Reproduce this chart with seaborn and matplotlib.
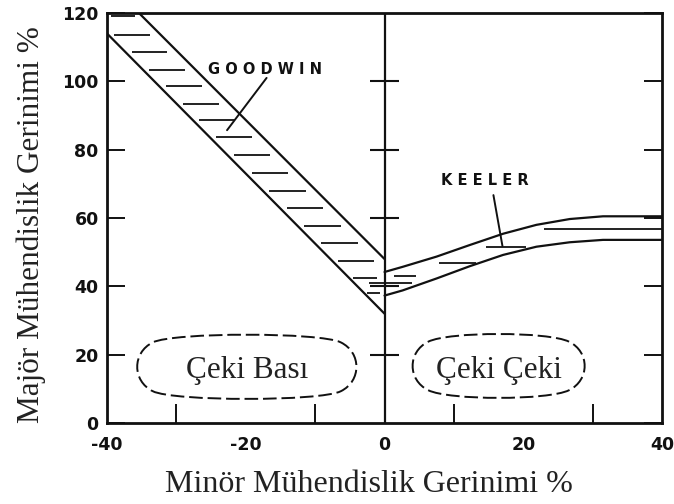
import numpy as np
import matplotlib
matplotlib.use('Agg')
import matplotlib.pyplot as plt
import seaborn as sns
from matplotlib.patches import FancyBboxPatch

# Goodwin band (two straight limits, left half of the diagram)
goodwin_upper_x = [-35.4, 0]
goodwin_upper_y = [120, 48]
goodwin_lower_x = [-40, 0]
goodwin_lower_y = [114, 32]
goodwin_hatch_y = [119, 113.7, 108.6, 103.4, 98.5, 93.4, 88.6, 83.7, 78.4,
                   73.2, 68, 62.8, 57.7, 52.6, 47.5, 42.5, 38]

# Keeler band (right half)
keeler_x = [0, 2.6, 7.5, 12.3, 17.1, 21.9, 26.7, 31.5, 40]
keeler_upper = [44.2, 45.7, 48.7, 52.1, 55.4, 58.0, 59.7, 60.5, 60.5]
keeler_lower = [37.3, 38.8, 42.3, 45.9, 49.2, 51.6, 52.9, 53.6, 53.6]
keeler_hatch_y = [43, 41, 46.7, 51.6, 56.7]
keeler_hatch_x0 = [1.4, -2.2, 7.9, 14.7, 23]
keeler_hatch_x1 = [4.5, 4.0, 13.2, 20.4, 40]

x_ticks = [-40, -20, 0, 20, 40]
x_tick_labels = ['-40', '-20', '0', '20', '40']
x_minor = [-30, -20, -10, 10, 20, 30]
y_ticks = [0, 20, 40, 60, 80, 100, 120]
center_ticks = [20, 40, 60, 80, 100]

regions = ['Çeki Bası', 'Çeki Çeki']

sns.set_theme(style='white')
plt.rcParams['font.family'] = ['Liberation Serif', 'DejaVu Serif']

ink = '#111111'
fig = plt.figure(figsize=(6.74, 5.04), dpi=100)
ax = fig.add_axes([0.1588, 0.1607, 0.8234, 0.8135])

# band limits
for xs, ys in [(goodwin_upper_x, goodwin_upper_y), (goodwin_lower_x, goodwin_lower_y),
               (keeler_x, keeler_upper), (keeler_x, keeler_lower)]:
    sns.lineplot(x=xs, y=ys, ax=ax, color=ink, lw=1.6, sort=False)

# hatching of Goodwin band
gy = np.array(goodwin_hatch_y)
xl = np.interp(gy, goodwin_lower_y[::-1], goodwin_lower_x[::-1])
xu = np.interp(gy, goodwin_upper_y[::-1], goodwin_upper_x[::-1])
w = xu - xl
ax.hlines(gy, xl + 0.12 * w, xu - 0.2 * w, color=ink, lw=1.3)

# hatching of Keeler band
ax.hlines(keeler_hatch_y, keeler_hatch_x0, keeler_hatch_x1, color=ink, lw=1.3)

# central vertical line with its ticks
ax.axvline(0, color=ink, lw=1.6)
ax.hlines(center_ticks, -2.1, 2.1, color=ink, lw=1.5)

# curve labels
lbl = dict(family='DejaVu Sans', fontweight='bold', fontsize=10.5, color=ink,
           ha='center', va='center')
ax.text(-17.2, 103.5, 'G O O D W I N', **lbl)
ax.plot([-17, -22.7], [101, 85.7], color=ink, lw=1.4)
ax.text(14.4, 71, 'K E E L E R', **lbl)
ax.plot([15.7, 17], [66.7, 51.8], color=ink, lw=1.4)

# strain regions
boxes = [(-36.4, 6.3, 33.1, 20.3), (3.3, 6.6, 26.3, 20.2)]
for (bx, by, bw, bh), name in zip(boxes, regions):
    patch = FancyBboxPatch((bx + 1.5, by + 1.5), bw - 3, bh - 3,
                           boxstyle='round4,pad=1.5,rounding_size=3',
                           fc='white', ec=ink, lw=1.4, ls=(0, (7, 2.5)),
                           mutation_aspect=1.0, zorder=3)
    ax.add_patch(patch)
    ax.text(bx + bw / 2, by + bh / 2 - 1.2, name, fontsize=22.5, ha='center',
            va='center', color='#222222', zorder=4)

ax.set_xlim(-40, 40)
ax.set_ylim(0, 120)
ax.set_xticks(x_ticks)
ax.set_xticklabels(x_tick_labels)
ax.set_xticks(x_minor, minor=True)
ax.set_yticks(y_ticks)
ax.tick_params(axis='x', which='major', length=0, pad=9)
ax.tick_params(axis='x', which='minor', direction='in', length=13.5, width=1.4,
               color=ink, bottom=True)
ax.tick_params(axis='y', which='major', direction='in', length=13, width=1.4,
               color=ink, left=True, right=True, pad=6)
for t in ax.get_xticklabels() + ax.get_yticklabels():
    t.set_family('DejaVu Sans')
    t.set_fontweight('bold')
    t.set_fontsize(12.5)
    t.set_color(ink)

for s in ax.spines.values():
    s.set_color(ink)
    s.set_linewidth(2.0)

ax.set_xlabel('Minör Mühendislik Gerinimi %', fontsize=23, labelpad=12, color='#222222')
ax.set_ylabel('Majör Mühendislik Gerinimi %', fontsize=22.5, labelpad=12, color='#222222')
ax.xaxis.label.set_x(0.472)
ax.yaxis.label.set_y(0.483)

fig.savefig('out.png', dpi=100)
